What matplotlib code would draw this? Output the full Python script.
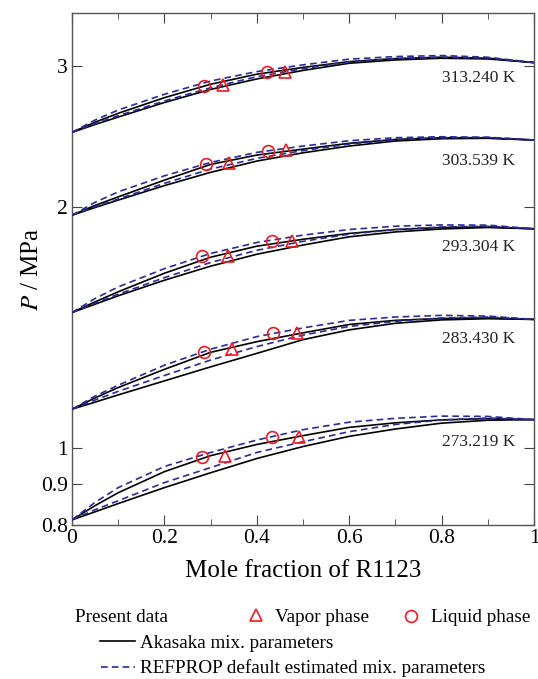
import numpy as np
import matplotlib
matplotlib.use("Agg")
import matplotlib.pyplot as plt
from matplotlib.lines import Line2D

plt.rcParams['font.family'] = ['Liberation Serif', 'DejaVu Serif']
plt.rcParams['mathtext.fontset'] = 'stix'

# mole fraction grid for the calculated curves
x_grid = [0, 0.05, 0.1, 0.2, 0.3, 0.4, 0.5, 0.6, 0.7, 0.8, 0.9, 1.0]

# P / MPa: Akasaka (ak) and REFPROP (rp), bubble / dew
ak_bub_313 = [2.481, 2.555, 2.621, 2.742, 2.850, 2.934, 2.992, 3.042, 3.069, 3.081, 3.072, 3.034]
ak_dew_313 = [2.481, 2.538, 2.593, 2.704, 2.808, 2.894, 2.966, 3.028, 3.057, 3.072, 3.066, 3.034]
rp_bub_313 = [2.481, 2.571, 2.646, 2.769, 2.877, 2.956, 3.014, 3.064, 3.087, 3.096, 3.081, 3.034]
rp_dew_313 = [2.481, 2.545, 2.603, 2.716, 2.822, 2.913, 2.981, 3.040, 3.069, 3.081, 3.075, 3.034]

ak_bub_303 = [1.954, 2.010, 2.060, 2.162, 2.262, 2.324, 2.364, 2.404, 2.431, 2.443, 2.441, 2.427]
ak_dew_303 = [1.954, 1.998, 2.041, 2.128, 2.211, 2.284, 2.339, 2.385, 2.420, 2.436, 2.439, 2.427]
rp_bub_303 = [1.954, 2.028, 2.090, 2.189, 2.275, 2.342, 2.385, 2.422, 2.443, 2.450, 2.446, 2.427]
rp_dew_303 = [1.954, 2.003, 2.047, 2.142, 2.232, 2.302, 2.354, 2.399, 2.429, 2.443, 2.446, 2.427]

ak_bub_293 = [1.476, 1.522, 1.567, 1.653, 1.731, 1.787, 1.823, 1.854, 1.875, 1.886, 1.889, 1.879]
ak_dew_293 = [1.476, 1.512, 1.549, 1.620, 1.687, 1.746, 1.793, 1.836, 1.862, 1.878, 1.886, 1.879]
rp_bub_293 = [1.476, 1.537, 1.589, 1.675, 1.750, 1.806, 1.845, 1.875, 1.893, 1.900, 1.899, 1.879]
rp_dew_293 = [1.476, 1.516, 1.556, 1.632, 1.705, 1.766, 1.812, 1.850, 1.875, 1.889, 1.893, 1.879]

ak_bub_283 = [1.117, 1.154, 1.189, 1.253, 1.316, 1.357, 1.392, 1.426, 1.443, 1.451, 1.453, 1.447]
ak_dew_283 = [1.117, 1.140, 1.164, 1.212, 1.262, 1.312, 1.365, 1.404, 1.431, 1.445, 1.450, 1.447]
rp_bub_283 = [1.117, 1.160, 1.197, 1.268, 1.328, 1.377, 1.412, 1.443, 1.457, 1.464, 1.461, 1.447]
rp_dew_283 = [1.117, 1.147, 1.176, 1.231, 1.287, 1.338, 1.383, 1.418, 1.439, 1.453, 1.457, 1.447]

ak_bub_273 = [0.812, 0.846, 0.878, 0.933, 0.977, 1.009, 1.035, 1.060, 1.074, 1.083, 1.087, 1.084]
ak_dew_273 = [0.812, 0.831, 0.851, 0.891, 0.930, 0.969, 1.003, 1.033, 1.055, 1.073, 1.082, 1.084]
rp_bub_273 = [0.812, 0.854, 0.891, 0.947, 0.986, 1.022, 1.053, 1.076, 1.088, 1.095, 1.094, 1.084]
rp_dew_273 = [0.812, 0.836, 0.858, 0.904, 0.944, 0.986, 1.017, 1.047, 1.069, 1.083, 1.089, 1.084]

# present data
liq_x = [0.286, 0.422, 0.290, 0.424, 0.281, 0.433, 0.286, 0.435, 0.281, 0.433]
liq_p = [2.836, 2.953, 2.264, 2.351, 1.736, 1.813, 1.319, 1.390, 0.974, 1.032]
vap_x = [0.327, 0.461, 0.340, 0.463, 0.338, 0.476, 0.346, 0.487, 0.331, 0.491]
vap_p = [2.844, 2.953, 2.271, 2.358, 1.736, 1.813, 1.327, 1.390, 0.977, 1.032]

temp_labels = ['313.240 K', '303.539 K', '293.304 K', '283.430 K', '273.219 K']
label_p = [2.90, 2.284, 1.782, 1.366, 1.015]

black_sets = [ak_bub_313, ak_dew_313, ak_bub_303, ak_dew_303, ak_bub_293, ak_dew_293,
              ak_bub_283, ak_dew_283, ak_bub_273, ak_dew_273]
blue_sets = [rp_bub_313, rp_dew_313, rp_bub_303, rp_dew_303, rp_bub_293, rp_dew_293,
             rp_bub_283, rp_dew_283, rp_bub_273, rp_dew_273]

blue = '#2b2b96'
red = '#ee1c25'

fig = plt.figure(figsize=(5.38, 6.79), dpi=100)
ax = fig.add_axes([72/538, 1 - 525/679, 462/538, 512/679])

for p in black_sets:
    ax.plot(x_grid, p, color='black', lw=1.2, zorder=2)
for p in blue_sets:
    ax.plot(x_grid, p, color=blue, lw=1.2, ls=(0, (4, 2.5)), zorder=3)

ax.plot(vap_x, vap_p, ls='none', marker='^', ms=9, mfc='none', mec=red, mew=1.2, zorder=4)
ax.plot(liq_x, liq_p, ls='none', marker='o', ms=8.5, mfc='none', mec=red, mew=1.2, zorder=4)

for lab, p in zip(temp_labels, label_p):
    ax.text(0.88, p, lab, ha='center', va='center', fontsize=12.5, color='#222222')

ax.set_yscale('log')
ax.set_xlim(0, 1)
ax.set_ylim(0.8, 3.5)
ax.set_yticks([0.8, 0.9, 1, 2, 3])
ax.set_yticklabels(['0.8', '0.9', '1', '2', '3'])
ax.yaxis.set_minor_locator(matplotlib.ticker.NullLocator())
ax.set_xticks([0, 0.2, 0.4, 0.6, 0.8, 1.0])
ax.set_xticklabels(['0', '0.2', '0.4', '0.6', '0.8', '1'])
ax.set_xticks(np.arange(0.1, 1.0, 0.2), minor=True)
ax.tick_params(which='both', direction='in', top=True, right=True, labelsize=15.5,
               color='#444444', pad=3)
ax.tick_params(which='major', length=7)
ax.tick_params(which='minor', length=4)
for s in ax.spines.values():
    s.set_color('#555555')
    s.set_linewidth(1.0)

ax.set_xlabel('Mole fraction of R1123', fontsize=18)
ax.set_ylabel(r'$P$ / MPa', fontsize=18)
ax.xaxis.set_label_coords(0.5, -0.068)
ax.yaxis.set_label_coords(-0.062, 0.5)

# legend below the axes
def fy(y):
    return 1 - y/679

fs = 13.8
fig.text(75/538, fy(618), 'Present data', fontsize=fs, va='center', ha='left')
fig.add_artist(Line2D([256/538], [fy(615)], marker='^', ms=9, mfc='none', mec=red, mew=1.2,
                      transform=fig.transFigure))
fig.text(275/538, fy(618), 'Vapor phase', fontsize=fs, va='center', ha='left')
fig.add_artist(Line2D([411/538], [fy(616)], marker='o', ms=8.5, mfc='none', mec=red, mew=1.2,
                      transform=fig.transFigure))
fig.text(431/538, fy(618), 'Liquid phase', fontsize=fs, va='center', ha='left')
fig.add_artist(Line2D([100/538, 135/538], [fy(641), fy(641)], color='black', lw=1.2,
                      transform=fig.transFigure))
fig.text(140/538, fy(643), 'Akasaka mix. parameters', fontsize=fs, va='center', ha='left')
fig.add_artist(Line2D([101/538, 135/538], [fy(667), fy(667)], color=blue, lw=1.2,
                      ls=(0, (4, 2.5)), transform=fig.transFigure))
fig.text(140/538, fy(668), 'REFPROP default estimated mix. parameters', fontsize=fs,
         va='center', ha='left')

fig.savefig('out.png', dpi=100)
